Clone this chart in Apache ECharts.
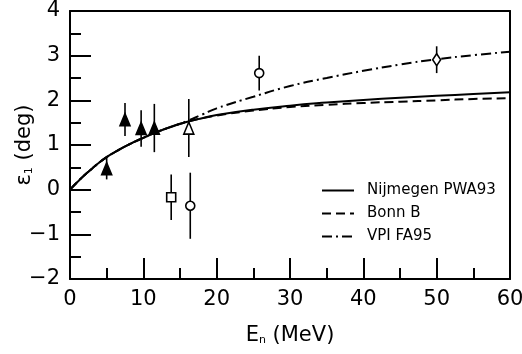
<!DOCTYPE html>
<html><head><meta charset="utf-8">
<script src="https://cdn.jsdelivr.net/npm/echarts@6/dist/echarts.min.js"></script>
<style>html,body{margin:0;padding:0;background:#fff}#c{width:522px;height:354px}</style>
</head><body><div id="c"></div>
<script>
// Curves
const curveX   = [0,1,2,3,4,5,6,8,10,12,14,16,18,20,25,30,35,40,45,50,55,60];
const nijmegen = [0,0.17,0.33,0.47,0.61,0.73,0.83,1.01,1.16,1.30,1.42,1.52,1.60,1.67,1.79,1.88,1.95,2.01,2.06,2.10,2.14,2.18];
const bonnB    = [0,0.17,0.33,0.47,0.61,0.73,0.83,1.01,1.16,1.30,1.42,1.52,1.60,1.66,1.77,1.85,1.90,1.94,1.97,2.00,2.03,2.05];
const vpi      = [0,0.17,0.33,0.47,0.61,0.73,0.83,1.01,1.16,1.30,1.42,1.54,1.68,1.82,2.08,2.32,2.50,2.66,2.80,2.92,3.01,3.09];
// Data points: [E, value, error]
const filledTri = [[5.0,0.47,0.24],[7.5,1.57,0.37],[9.7,1.37,0.41],[11.5,1.38,0.54]];
const openTri   = [[16.2,1.38,0.65]];
const openSq    = [[13.8,-0.17,0.51]];
const openCirc  = [[16.4,-0.36,0.74],[25.8,2.61,0.39]];
const openDiam  = [[50.0,2.91,0.30]];
const xTicks = [0,10,20,30,40,50,60];
const yTicks = [-2,-1,0,1,2,3,4];

const FONT = 'DejaVu Sans';
const chart = echarts.init(document.getElementById('c'));
const pair = (xs, ys) => xs.map((x,i)=>[x, ys[i]]);
const allPts = [].concat(filledTri, openTri, openSq, openCirc, openDiam);
const errData = allPts.map(p => [p[0], p[1]-p[2], p[1]+p[2]]);
const lineSeries = (name, ys, type) => ({
  name, type:'line', data: pair(curveX, ys), symbol:'none', smooth:true, z:3,
  lineStyle:{color:'#000', width:2, type}, itemStyle:{color:'#000'}
});
const scat = (data, symbol, size, filled) => ({
  type:'scatter', data: data.map(p=>[p[0],p[1]]), symbol, symbolSize:size, z:6,
  itemStyle:{color: filled ? '#000' : '#fff', borderColor:'#000', borderWidth:1.6, opacity:1}
});
const fmtMinus = v => (v < 0 ? '\u2212' + Math.abs(v) : String(v));

chart.setOption({
  animation:false,
  textStyle:{fontFamily:FONT},
  grid:{left:70, right:12, top:11, bottom:75, outerBoundsMode:'none', containLabel:false},
  legend:{
    orient:'vertical', left:316, top:178, itemWidth:32, itemHeight:14, itemGap:8,
    itemStyle:{opacity:0, borderWidth:0},
    data:['Nijmegen PWA93','Bonn B','VPI FA95'],
    textStyle:{fontFamily:FONT, fontSize:15, color:'#000', padding:[0,0,0,8]}
  },
  xAxis:[{
    type:'value', min:0, max:60, interval:10, position:'bottom',
    name:'E{s|n} (MeV)', nameLocation:'middle', nameGap:46, nameMoveOverlap:false,
    nameTextStyle:{fontFamily:FONT, fontSize:21, color:'#000', rich:{s:{fontSize:11, fontFamily:FONT, verticalAlign:'bottom', padding:[9,0,0,0]}}},
    axisLine:{show:true, onZero:false, lineStyle:{color:'#000', width:2}},
    axisTick:{inside:true, length:21, lineStyle:{color:'#000', width:2}},
    minorTick:{show:true, splitNumber:2, length:11, lineStyle:{color:'#000', width:2}},
    axisLabel:{fontFamily:FONT, fontSize:21, color:'#000', margin:10},
    splitLine:{show:false}
  },{
    type:'value', min:0, max:60, position:'top',
    axisLine:{show:true, onZero:false, lineStyle:{color:'#000', width:2}},
    axisTick:{show:false}, axisLabel:{show:false}, splitLine:{show:false}
  }],
  yAxis:[{
    type:'value', min:-2, max:4, interval:1, position:'left',
    name:'\u03b5{s|1} (deg)', nameLocation:'middle', nameGap:35, nameMoveOverlap:false,
    nameTextStyle:{fontFamily:FONT, fontSize:21, color:'#000', rich:{s:{fontSize:11, fontFamily:FONT, verticalAlign:'bottom', padding:[9,0,0,0]}}},
    axisLine:{show:true, onZero:false, lineStyle:{color:'#000', width:2}},
    axisTick:{inside:true, length:21, lineStyle:{color:'#000', width:2}},
    minorTick:{show:true, splitNumber:2, length:11, lineStyle:{color:'#000', width:2}},
    axisLabel:{fontFamily:FONT, fontSize:21, color:'#000', margin:10, formatter:fmtMinus},
    splitLine:{show:false}
  },{
    type:'value', min:-2, max:4, position:'right',
    axisLine:{show:true, onZero:false, lineStyle:{color:'#000', width:2}},
    axisTick:{show:false}, axisLabel:{show:false}, splitLine:{show:false}
  }],
  series:[
    lineSeries('Nijmegen PWA93', nijmegen, 'solid'),
    lineSeries('Bonn B', bonnB, [9,5]),
    lineSeries('VPI FA95', vpi, [10,4,2,4]),
    {
      type:'custom', data: errData, z:5,
      renderItem:(params, api) => {
        const a = api.coord([api.value(0), api.value(1)]);
        const b = api.coord([api.value(0), api.value(2)]);
        return {type:'line', shape:{x1:a[0], y1:a[1], x2:b[0], y2:b[1]}, style:{stroke:'#000', lineWidth:1.6}};
      }
    },
    scat(filledTri,'triangle',[10,12],true),
    scat(openTri,'triangle',[10,12],false),
    scat(openSq,'rect',9,false),
    scat(openCirc,'circle',9,false),
    scat(openDiam,'diamond',[8,12],false)
  ]
});
</script></body></html>
